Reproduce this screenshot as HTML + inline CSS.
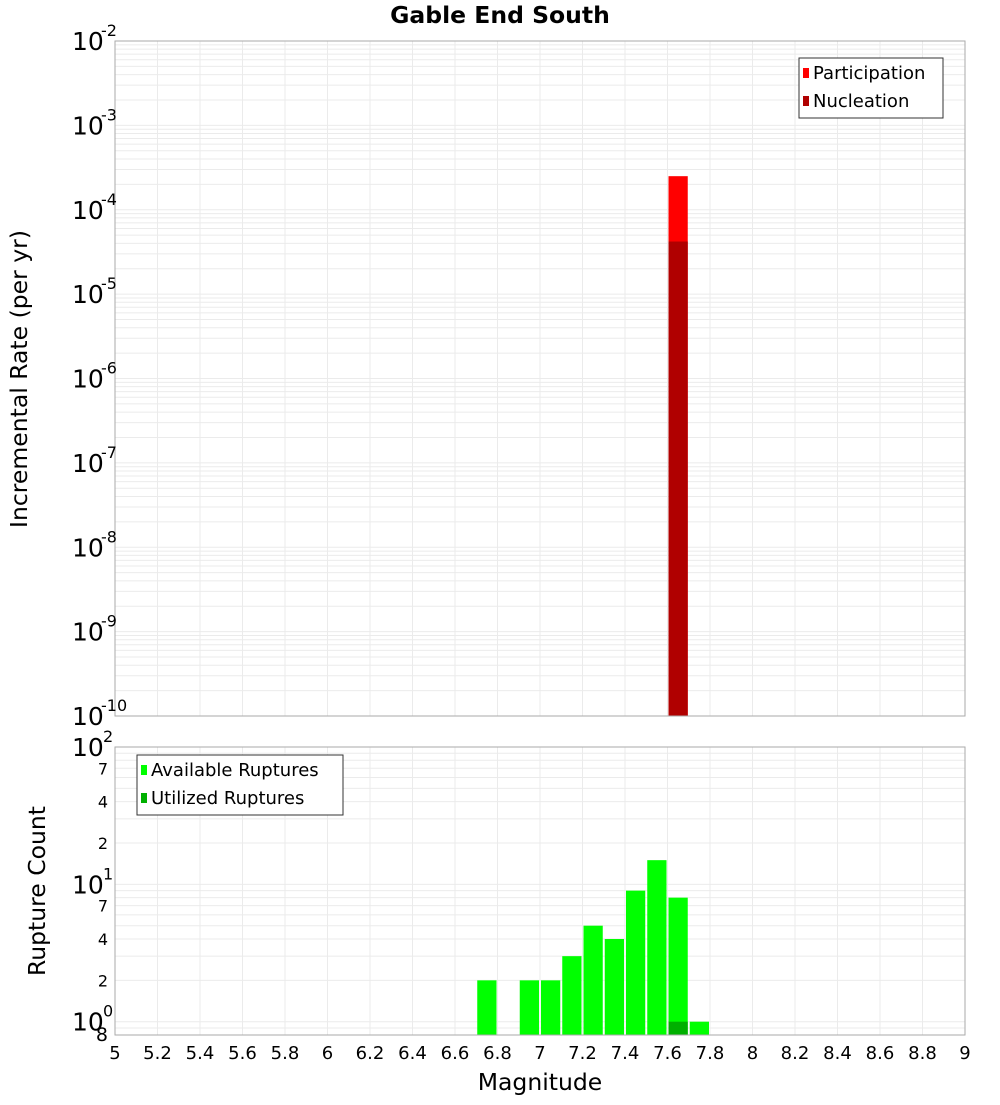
<!DOCTYPE html>
<html><head><meta charset="utf-8">
<style>
body{margin:0;background:#fff;}
svg text{font-family:"DejaVu Sans","Liberation Sans",sans-serif;fill:#000;}
</style></head>
<body>
<svg id="chart" width="1000" height="1100" xmlns="http://www.w3.org/2000/svg">
<text x="500" y="23" text-anchor="middle" font-size="23.5" font-weight="bold">Gable End South</text>
<text x="540" y="1090" text-anchor="middle" font-size="23.5">Magnitude</text>
<text transform="translate(27,379) rotate(-90)" text-anchor="middle" font-size="23.5">Incremental Rate (per yr)</text>
<text transform="translate(45,891) rotate(-90)" text-anchor="middle" font-size="23.5">Rupture Count</text>
<g id="topg"></g>
<g id="bot"></g>
<g id="xt"></g>
</svg>
<script>
// data
const partMags=[7.65];
const partRates=[2.5e-4];
const nuclMags=[7.65];
const nuclRates=[4.2e-5];
const availMags=[6.75,6.95,7.05,7.15,7.25,7.35,7.45,7.55,7.65,7.75];
const availCounts=[2,2,2,3,5,4,9,15,8,1];
const usedMags=[7.65];
const usedCounts=[1];
const xTicks=[5,5.2,5.4,5.6,5.8,6,6.2,6.4,6.6,6.8,7,7.2,7.4,7.6,7.8,8,8.2,8.4,8.6,8.8,9];
const topExps=[-10,-9,-8,-7,-6,-5,-4,-3,-2];
const botMinor=[2,4,7,20,40,70];

const NS="http://www.w3.org/2000/svg";
function mk(p,tag,a){const e=document.createElementNS(NS,tag);for(const k in a)e.setAttribute(k,a[k]);p.appendChild(e);return e;}
const L=115,R=965;
const xs=m=>L+(m-5)/4*(R-L);
const T0=41,T1=716;
const yT=v=>T0+(-2-Math.log10(v))/8*(T1-T0);
const B0=747,B1=1035,bmin=0.8,bmax=100;
const yB=v=>B0+(Math.log10(bmax)-Math.log10(v))/(Math.log10(bmax)-Math.log10(bmin))*(B1-B0);
const topG=document.getElementById('topg'),botG=document.getElementById('bot'),xtG=document.getElementById('xt');

// top grid
for(let e=-10;e<-2;e++){for(let k=1;k<10;k++){const y=yT(k*Math.pow(10,e));
 const g=mk(topG,'line',{x1:L,x2:R,y1:y,y2:y,stroke:'#ebebeb','stroke-width':1});
 
 }}
xTicks.forEach(m=>{[topG,botG].forEach((p,i)=>{const g=mk(p,'line',{x1:xs(m),x2:xs(m),y1:i?B0:T0,y2:i?B1:T1,stroke:'#ebebeb'});
 
 });});
// bottom grid
for(let e=-1;e<2;e++){for(let k=1;k<10;k++){const v=k*Math.pow(10,e);if(v<bmin||v>bmax)continue;const y=yB(v);
 const g=mk(botG,'line',{x1:L,x2:R,y1:y,y2:y,stroke:'#ebebeb'});
 
 }}

const bw=0.1*(R-L)/4;
function bars(p,mags,vals,yf,base,col,name){mags.forEach((m,i)=>{const y=yf(vals[i]);
 const r=mk(p,'rect',{x:xs(m)-bw/2+1,y:y,width:bw-2,height:base-y,fill:col});
 
 });}
bars(topG,partMags,partRates,yT,T1,'#ff0000','participation-bar');
bars(topG,nuclMags,nuclRates,yT,T1,'#b00000','nucleation-bar');
bars(botG,availMags,availCounts,yB,B1,'#00ff00','available-bar');
bars(botG,usedMags,usedCounts,yB,B1,'#00b000','utilized-bar');

// frames
let f=mk(topG,'rect',{x:L,y:T0,width:R-L,height:T1-T0,fill:'none',stroke:'#aaa'});


f=mk(botG,'rect',{x:L,y:B0,width:R-L,height:B1-B0,fill:'none',stroke:'#aaa'});



// top y labels
topExps.forEach(e=>{const y=yT(Math.pow(10,e));
 const t=mk(topG,'text',{x:72,y:y+9,'font-size':25});t.textContent='10';
 
 
 const s=mk(topG,'text',{x:101,y:y-5,'font-size':16});s.textContent=String(e);
 
 });
// bottom y labels
[[100,'2'],[10,'1'],[1,'0']].forEach(([v,e])=>{const y=yB(v);
 const t=mk(botG,'text',{x:72,y:y+9,'font-size':25});t.textContent='10';
 
 
 const s=mk(botG,'text',{x:103,y:y-5,'font-size':16});s.textContent=e;
 
 });
botMinor.concat([0.8]).forEach(v=>{const y=yB(v);
 const t=mk(botG,'text',{x:108,y:y+6,'font-size':v==0.8?19:16,'text-anchor':'end',fill:'#222'});
 t.textContent=String(Math.round(v<1?v*10:(v>=10?v/10:v)));
 
 });

// x labels
xTicks.forEach(m=>{const t=mk(xtG,'text',{x:xs(m),y:1059,'font-size':18,'text-anchor':'middle'});
 t.textContent=String(m);
 
 });

// legends
function legend(p,bx,by,w,items,name){const g=mk(p,'g',{});
 
 
 mk(g,'rect',{x:bx,y:by,width:w,height:items.length*28+4,fill:'#fff',stroke:'#333'});
 items.forEach((it,i)=>{mk(g,'rect',{x:bx+4,y:by+10+i*28,width:6,height:10,fill:it[1]});
  const t=mk(g,'text',{x:bx+14,y:by+21+i*28,'font-size':18});t.textContent=it[0];
  
  });}
legend(topG,799,58,144,[['Participation','#ff0000'],['Nucleation','#b00000']],'top-legend');
legend(botG,137,755,206,[['Available Ruptures','#00ff00'],['Utilized Ruptures','#00b000']],'bottom-legend');
</script>
</body></html>
